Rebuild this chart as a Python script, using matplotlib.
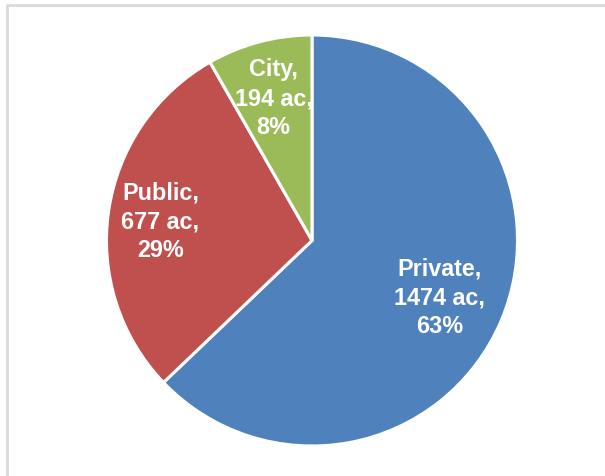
import matplotlib
matplotlib.use("Agg")
import matplotlib.pyplot as plt
import matplotlib.transforms as mtransforms
import numpy as np

categories = ["Private", "Public", "City"]
acres = [1474, 677, 194]
percents = [63, 29, 8]
colors = ["#4F81BD", "#C0504D", "#9BBB59"]
label_dist = [0.675, 0.745, 0.73]

W, H = 605, 476
fig = plt.figure(figsize=(W / 100, H / 100), dpi=100)
fig.patch.set_facecolor("white")

# light grey frame (top and left edges visible)
frame = fig.add_axes([0, 0, 1, 1])
frame.set_xlim(0, W)
frame.set_ylim(H, 0)
frame.axis("off")
frame.plot([7, 7, W + 5], [H + 5, 5, 5], color="#D9D9D9", lw=2, solid_capstyle="butt")

cx, cy, r = 312, 240.5, 205.5
ax = fig.add_axes([(cx - r) / W, 1 - (cy + r) / H, 2 * r / W, 2 * r / H])
wedges, _ = ax.pie(acres, colors=colors, startangle=90, counterclock=False,
                   wedgeprops=dict(edgecolor="white", linewidth=2.2))
ax.set_xlim(-1, 1)
ax.set_ylim(-1, 1)
ax.set_aspect("auto")

shift = mtransforms.offset_copy(ax.transData, fig=fig, x=0, y=-3, units="dots")
for w, cat, a, p, d in zip(wedges, categories, acres, percents, label_dist):
    ang = np.deg2rad((w.theta1 + w.theta2) / 2)
    ax.text(d * np.cos(ang), d * np.sin(ang), f"{cat},\n{a} ac,\n{p}%",
            ha="center", va="center", color="white", fontsize=16.8,
            fontweight="bold", family="Liberation Sans", linespacing=1.32,
            transform=shift)

fig.savefig("out.png", dpi=100, facecolor="white")
